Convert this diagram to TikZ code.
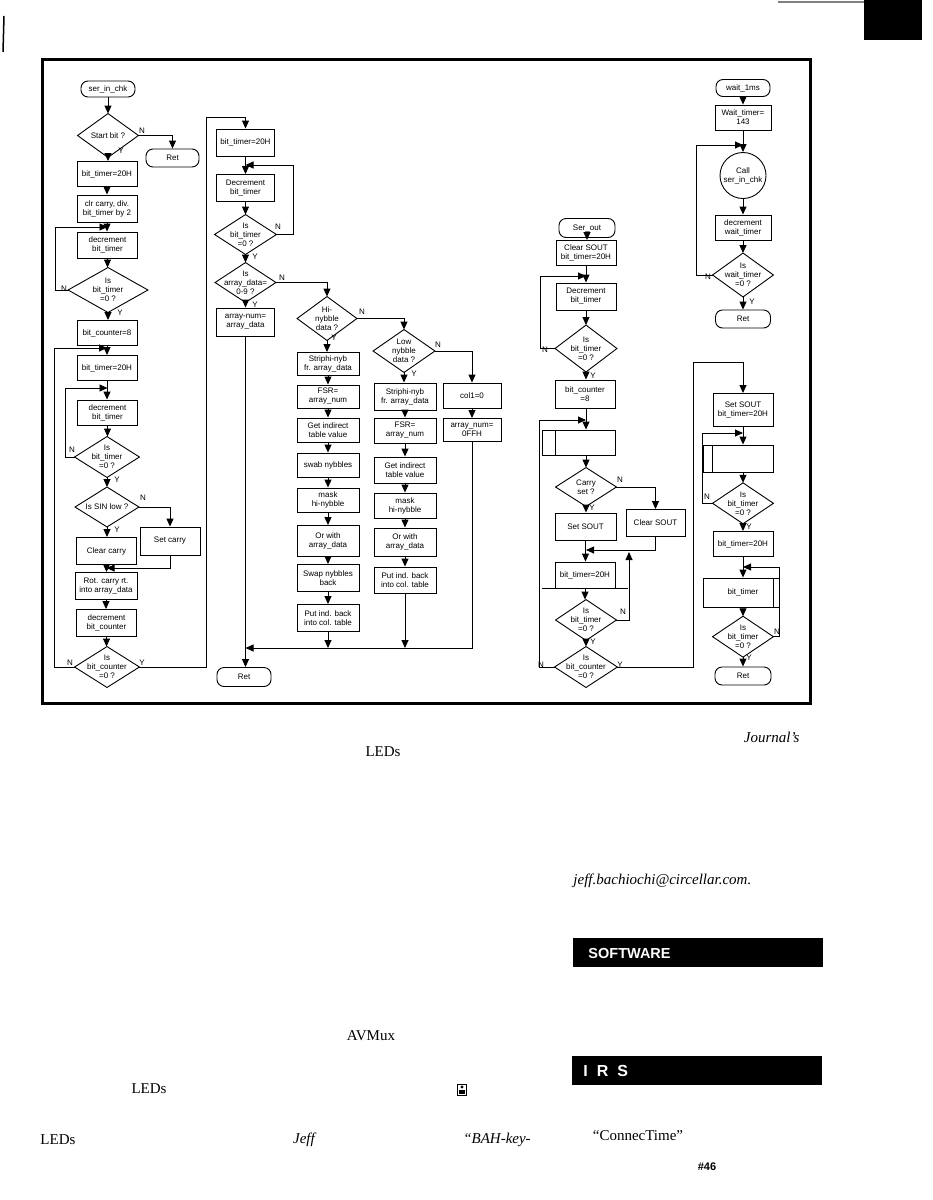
\documentclass[tikz,border=0pt]{standalone}
\usepackage{fontspec}
\setmainfont{Liberation Serif}
\newfontfamily\flowfont{Liberation Sans}
\usetikzlibrary{arrows.meta,calc}
\newcommand\mydiam[1]{\draw (#1.north) -- (#1.east) -- (#1.south) -- (#1.west) -- cycle;}
\newcommand\vd[2]{\draw[arr] (#1.south) -- (#1.south |- #2.north);}
\begin{document}
\begin{tikzpicture}[x=1pt,y=-1pt,line width=0.9pt,
  every node/.style={inner sep=0pt},
  fc/.style={font=\flowfont\fontsize{8}{9}\selectfont},
  box/.style={fc,draw,rectangle,align=center,minimum width=60pt,minimum height=25pt},
  term/.style={fc,draw,rectangle,rounded corners=7pt,minimum width=54pt,minimum height=18pt},
  dia/.style={fc,rectangle,align=center},
  arr/.style={-{Triangle[length=8pt,width=7pt]}},
  lab/.style={fc},
  body/.style={font=\fontsize{15}{18}\selectfont},
  bodyit/.style={font=\fontsize{15}{18}\selectfont\itshape}]
\useasboundingbox (0,0) rectangle (933,1200);
\fill[white] (0,0) rectangle (933,1200);
% page artifacts
\fill (864,0) rectangle (922,40);
\draw[line width=1.5pt,gray] (778,2) -- (864,2);
\draw[line width=1.5pt] (4,16) -- (3,52);
% frame
\draw[line width=3pt] (42,59) rectangle (810,703);

% ---------- column A : ser_in_chk ----------
\node[term,minimum height=16pt] (A0) at (108,89) {ser\_in\_chk};
\node[dia,minimum width=60pt,minimum height=43pt] (A1) at (108,135.5) {Start bit ?}; \mydiam{A1}
\node[term,minimum width=53pt] (ARet) at (172.5,158) {Ret};
\node[box] (A2) at (107,174) {bit\_timer=20H};
\node[box,minimum height=27pt] (A3) at (107,208.5) {clr carry, div.\\bit\_timer by 2};
\node[box,minimum height=26pt] (A4) at (107.5,245) {decrement\\bit\_timer};
\node[dia,minimum width=79pt,minimum height=44pt] (A5) at (108,290) {Is\\bit\_timer\\=0 ?}; \mydiam{A5}
\node[box] (A6) at (107,333) {bit\_counter=8};
\node[box] (A7) at (107,368) {bit\_timer=20H};
\node[box] (A8) at (107.5,412.5) {decrement\\bit\_timer};
\node[dia,minimum width=64pt,minimum height=40pt] (A9) at (107,457) {Is\\bit\_timer\\=0 ?}; \mydiam{A9}
\node[dia,minimum width=63pt,minimum height=39pt] (A10) at (107,507) {Is SIN low ?}; \mydiam{A10}
\node[box,minimum height=28pt] (A11) at (170,541) {Set carry};
\node[box,minimum height=27pt] (A12) at (106.5,551) {Clear carry};
\node[box,minimum width=62pt,minimum height=27pt] (A13) at (106,586) {Rot. carry rt.\\into array\_data};
\node[box,minimum height=27pt] (A14) at (106.5,623) {decrement\\bit\_counter};
\node[dia,minimum width=64pt,minimum height=40pt] (A15) at (107,667) {Is\\bit\_counter\\=0 ?}; \mydiam{A15}
\coordinate (j1) at (107.5,227);
\coordinate (j2) at (107,348);
\coordinate (j3) at (107.5,388);
\coordinate (j4) at (106.5,568);
\coordinate (c1) at (206,117);

\vd{A0}{A1}
\draw[arr] (A1.east) -| (ARet.north);
\vd{A1}{A2} \vd{A2}{A3} \vd{A3}{A4} \vd{A4}{A5}
\draw[arr] (A5.west) -- ++(-13,0) |- (j1);
\vd{A5}{A6} \vd{A6}{A7} \vd{A7}{A8} \vd{A8}{A9}
\draw[arr] (A15.west) -- ++(-20,0) |- (j2);
\draw[arr] (A9.west) -- ++(-9,0) |- (j3);
\vd{A9}{A10} \vd{A10}{A12}
\draw[arr] (A10.east) -| (A11.north);
\draw[arr] (A11.south) |- (j4);
\vd{A12}{A13} \vd{A13}{A14} \vd{A14}{A15}

% ---------- column B ----------
\node[box,minimum width=58pt,minimum height=27pt] (B1) at (245.5,142.5) {bit\_timer=20H};
\node[box,minimum width=58pt,minimum height=27pt] (B2) at (245.5,188) {Decrement\\bit\_timer};
\node[dia,minimum width=61pt,minimum height=39pt] (B3) at (245.5,234.5) {Is\\bit\_timer\\=0 ?}; \mydiam{B3}
\node[dia,minimum width=60pt,minimum height=39pt] (B4) at (245.5,282.5) {Is\\array\_data=\\0-9 ?}; \mydiam{B4}
\node[box,minimum width=58pt,minimum height=28pt] (B5) at (245.5,322) {array-num=\\array\_data};
\node[term,minimum width=54pt,minimum height=19pt] (BRet) at (244,677) {Ret};
\coordinate (jB1) at (245.5,165);
\coordinate (jB2) at (245.5,648);
\draw[arr] (A15.east) -| (c1) -| (B1.north);
\vd{B1}{B2} \vd{B2}{B3}
\draw[arr] (B3.east) -- ++(17,0) |- (jB1);
\vd{B3}{B4} \vd{B4}{B5}
\draw[arr] (B5.south) -- (B5.south |- BRet.north);

% ---------- column C ----------
\node[dia,minimum width=59pt,minimum height=43pt] (C0) at (327,318.5) {Hi-\\nybble\\data ?}; \mydiam{C0}
\node[box,minimum width=62pt,minimum height=23pt] (C1) at (328,364) {Striphi-nyb\\fr. array\_data};
\node[box,minimum width=62pt,minimum height=23pt] (C2) at (328,396.5) {FSR=\\array\_num};
\node[box,minimum width=62pt,minimum height=24pt] (C3) at (328,430) {Get indirect\\table value};
\node[box,minimum width=62pt,minimum height=24pt] (C4) at (328,465) {swab nybbles};
\node[box,minimum width=62pt,minimum height=24pt] (C5) at (328,500) {mask\\hi-nybble};
\node[box,minimum width=62pt,minimum height=31pt] (C6) at (328,541) {Or with\\array\_data};
\node[box,minimum width=62pt,minimum height=27pt] (C7) at (328,578) {Swap nybbles\\back};
\node[box,minimum width=62pt,minimum height=27pt] (C8) at (328,618) {Put ind. back\\into col. table};
\draw[arr] (B4.east) -| (C0.north);
\draw[arr] (C0.south) -- (C0.south |- C1.north);
\vd{C1}{C2} \vd{C2}{C3} \vd{C3}{C4} \vd{C4}{C5} \vd{C5}{C6} \vd{C6}{C7} \vd{C7}{C8}

% ---------- column D ----------
\node[dia,minimum width=61pt,minimum height=42pt] (D0) at (404,351) {Low\\nybble\\data ?}; \mydiam{D0}
\node[box,minimum width=62pt,minimum height=27pt] (D1) at (405,396.5) {Striphi-nyb\\fr. array\_data};
\node[box,minimum width=62pt,minimum height=25pt] (D2) at (405,430.5) {FSR=\\array\_num};
\node[box,minimum width=62pt,minimum height=26pt] (D3) at (405,470) {Get indirect\\table value};
\node[box,minimum width=62pt,minimum height=25pt] (D4) at (405,505.5) {mask\\hi-nybble};
\node[box,minimum width=62pt,minimum height=28pt] (D5) at (405,542) {Or with\\array\_data};
\node[box,minimum width=62pt,minimum height=26pt] (D6) at (405,580) {Put ind. back\\into col. table};
\draw[arr] (C0.east) -| (D0.north);
\draw[arr] (D0.south) -- (D0.south |- D1.north);
\vd{D1}{D2} \vd{D2}{D3} \vd{D3}{D4} \vd{D4}{D5} \vd{D5}{D6}

% ---------- column E ----------
\node[box,minimum width=58pt,minimum height=25pt] (E1) at (472,395.5) {col1=0};
\node[box,minimum width=58pt,minimum height=23pt] (E2) at (472,430) {array\_num=\\0FFH};
\draw[arr] (D0.east) -| (E1.north);
\vd{E1}{E2}
\draw[arr] (E2.south) |- (jB2);
\draw[arr] (C8.south) -- (C8.south |- jB2);
\draw[arr] (D6.south) -- (D6.south |- jB2);

% ---------- column F : Ser_out ----------
\node[term,minimum width=56pt,minimum height=19pt] (F0) at (587,228) {Ser\_out};
\node[box] (F1) at (586,253) {Clear SOUT\\bit\_timer=20H};
\node[box,minimum height=27pt] (F2) at (586,296.5) {Decrement\\bit\_timer};
\node[dia,minimum width=61pt,minimum height=46pt] (F3) at (586,348.5) {Is\\bit\_timer\\=0 ?}; \mydiam{F3}
\node[box,minimum height=28pt] (F4) at (585,394) {bit\_counter\\=8};
\node[box,minimum width=73pt,minimum height=25pt] (F5) at (578.5,442.5) {};
\draw ([xshift=13.5pt]F5.north west) -- ([xshift=13.5pt]F5.south west);
\node[dia,minimum width=60pt,minimum height=38pt] (F6) at (586,487) {Carry\\set ?}; \mydiam{F6}
\node[box,minimum width=61pt,minimum height=27pt] (F7) at (585.5,526.5) {Set SOUT};
\node[box,minimum width=59pt,minimum height=27pt] (F8) at (655.5,523) {Clear SOUT};
\node[box,minimum height=26pt] (FA) at (585,575) {bit\_timer=20H};
\draw ([xshift=-13pt]FA.south west) -- ([xshift=13pt]FA.south east);
\node[dia,minimum width=60pt,minimum height=40pt] (FB) at (586,620) {Is\\bit\_timer\\=0 ?}; \mydiam{FB}
\node[dia,minimum width=62pt,minimum height=40pt] (F9) at (586,667) {Is\\bit\_counter\\=0 ?}; \mydiam{F9}
\coordinate (jF1) at (586,276);
\coordinate (jF2) at (586,420);
\coordinate (jF3) at (586,550);
\coordinate (jF4) at (629,552);
\coordinate (cG) at (693,362);
\vd{F0}{F1} \vd{F1}{F2}
\draw[arr] (F3.west) -- ++(-15,0) |- (jF1);
\vd{F2}{F3} \vd{F3}{F4}
\draw[arr] (F4.south -| jF2) -- (jF2 |- F5.north);
\draw[arr] (F9.west) -- ++(-15,0) |- (jF2);
\draw[arr] (jF2 |- F5.south) -- (F6.north);
\draw[arr] (F6.east) -| (F8.north);
\vd{F6}{F7}
\draw[arr] (F8.south) |- (jF3);
\vd{F7}{FA} \vd{FA}{FB}
\draw[arr] (FB.east) -| (jF4);
\vd{FB}{F9}

% ---------- column G : wait_1ms ----------
\node[term,minimum height=17pt] (G0) at (743,88) {wait\_1ms};
\node[box,minimum width=56pt] (G1) at (743,117.5) {Wait\_timer=\\143};
\node[fc,draw,circle,minimum size=46pt,align=center] (G2) at (743,175.5) {Call\\ser\_in\_chk};
\node[box,minimum width=56pt] (G3) at (743,227.5) {decrement\\wait\_timer};
\node[dia,minimum width=60pt,minimum height=43pt] (G4) at (743,275) {Is\\wait\_timer\\=0 ?}; \mydiam{G4}
\node[term,minimum width=55pt] (GRet) at (743,319) {Ret};
\coordinate (jG1) at (743,145);
\vd{G0}{G1} \vd{G1}{G2} \vd{G2}{G3} \vd{G3}{G4} \vd{G4}{GRet}
\draw[arr] (G4.west) -- ++(-16,0) |- (jG1);

% ---------- column H ----------
\node[box,minimum height=33pt] (H1) at (743,410) {Set SOUT\\bit\_timer=20H};
\node[box,minimum width=70pt,minimum height=27pt] (H2) at (738,458.5) {};
\draw ([xshift=10pt]H2.north west) -- ([xshift=10pt]H2.south west);
\node[dia,minimum width=60pt,minimum height=40pt] (H3) at (743,503.3) {Is\\bit\_timer\\=0 ?}; \mydiam{H3}
\node[box] (H4) at (743,544) {bit\_timer=20H};
\node[box,minimum width=76pt,minimum height=29pt] (H5) at (741,592.5) {\hspace{4pt}bit\_timer};
\draw ([xshift=-6pt]H5.north east) -- ([xshift=-6pt]H5.south east);
\node[dia,minimum width=60pt,minimum height=40pt] (H6) at (743,636.7) {Is\\bit\_timer\\=0 ?}; \mydiam{H6}
\node[term,minimum width=56pt] (HRet) at (743,676) {Ret};
\coordinate (jH1) at (743,433);
\coordinate (jH2) at (743,567);
\draw[arr] (F9.east) -| (cG) -| (H1.north);
\draw[arr] (H1.south) -- (H1.south |- H2.north);
\draw[arr] (H3.west) -- ++(-10,0) |- (jH1);
\draw[arr] (H1.south |- H2.south) -- (H3.north);
\vd{H3}{H4}
\draw[arr] (H4.south) -- (H4.south |- H5.north);
\draw[arr] (H6.east) -- ++(6,0) |- (jH2);
\draw[arr] (H4.south |- H5.south) -- (H6.north);
\vd{H6}{HRet}

% ---------- Y / N labels ----------
\node[lab] (l1) at (142,131) {N};
\node[lab] (l2) at (121,151) {Y};
\node[lab] (l3) at (64,289) {N};
\node[lab] (l4) at (120,313) {Y};
\node[lab] (l5) at (72,450) {N};
\node[lab] (l6) at (117,480) {Y};
\node[lab] (l7) at (143,498) {N};
\node[lab] (l8) at (117,530) {Y};
\node[lab] (l9) at (70,663) {N};
\node[lab] (l10) at (142,663) {Y};
\node[lab] (l11) at (278,227) {N};
\node[lab] (l12) at (255,257) {Y};
\node[lab] (l13) at (282,278) {N};
\node[lab] (l14) at (255,305) {Y};
\node[lab] (l15) at (362,312) {N};
\node[lab] (l16) at (334,338) {Y};
\node[lab] (l17) at (438,345) {N};
\node[lab] (l18) at (414,374) {Y};
\node[lab] (l19) at (545,350) {N};
\node[lab] (l20) at (593,376) {Y};
\node[lab] (l21) at (620,480) {N};
\node[lab] (l22) at (592,508) {Y};
\node[lab] (l23) at (623,612) {N};
\node[lab] (l24) at (593,642) {Y};
\node[lab] (l25) at (541,665) {N};
\node[lab] (l26) at (620,665) {Y};
\node[lab] (l27) at (708,277) {N};
\node[lab] (l28) at (752,302) {Y};
\node[lab] (l29) at (707,497) {N};
\node[lab] (l30) at (749,527) {Y};
\node[lab] (l31) at (777,632) {N};
\node[lab] (l32) at (749,658) {Y};

% ---------- page text ----------
\node[bodyit,anchor=east] (t1) at (800,737) {Journal’s};
\node[body] (t2) at (383,752) {LEDs};
\node[bodyit,anchor=west] (t3) at (573,881) {jeff.bachiochi@circellar.com.};
\node[fill=black,minimum width=250pt,minimum height=29pt] (sw) at (697.5,952.5) {};
\node[text=white,anchor=west,font=\flowfont\bfseries\fontsize{14.5}{15}\selectfont] (swt) at (588,953) {SOFTWARE};
\node[body] (t4) at (371,1036) {AVMux};
\node[body] (t5) at (638,1136) {“ConnecTime”};
\node[fill=black,minimum width=250pt,minimum height=29pt] (irs) at (697,1070.5) {};
\node[text=white,anchor=west,font=\flowfont\bfseries\fontsize{16}{16}\selectfont] (irst) at (583,1071) {I\hspace{9pt}R\hspace{9pt}S};
\node[body] (t6) at (149,1089) {LEDs};
\node[draw,line width=0.6pt,minimum width=9pt,minimum height=11pt] (ic) at (462,1090) {};
\fill (458.8,1094) rectangle (465.2,1089.5);
\fill (462,1087) circle (1.6pt);
\node[body,anchor=west] (t7) at (40,1140) {LEDs};
\node[bodyit] (t8) at (304,1140) {Jeff};
\node[bodyit] (t9) at (497,1140) {“BAH-key-};
\node[font=\flowfont\bfseries\fontsize{11}{11}\selectfont] (t10) at (707,1167) {\#46};
\end{tikzpicture}
\end{document}
